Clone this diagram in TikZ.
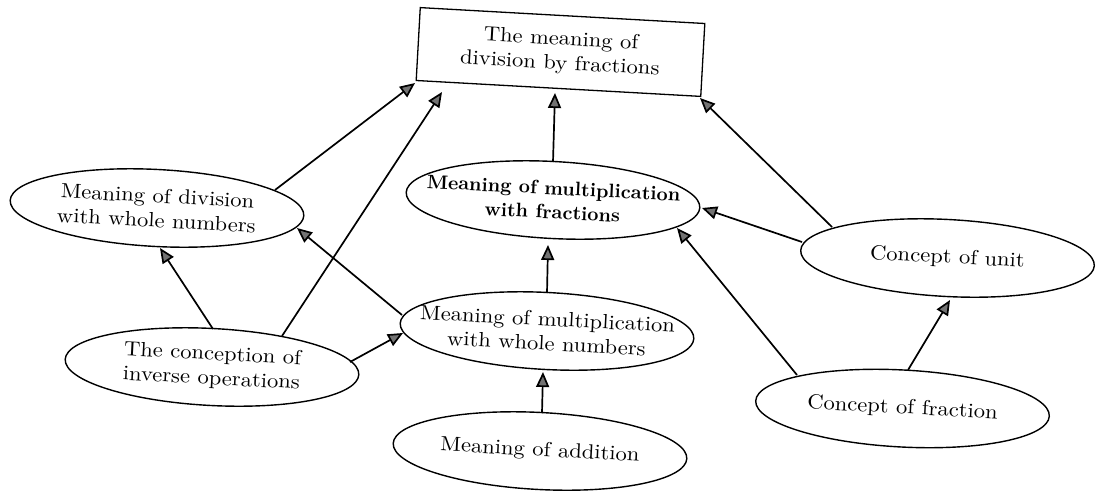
\documentclass[tikz,border=0pt]{standalone}
\usepackage{fontspec}
\newfontfamily\lblfont{lmroman10-regular.otf}[FakeStretch=1.1]
\newfontfamily\lblbold{lmroman10-bold.otf}
\usetikzlibrary{shapes.geometric,arrows.meta,calc}
\begin{document}
\begin{tikzpicture}[x=1pt,y=-1pt,
  ell/.style={ellipse,draw,line width=1.4pt,minimum width=294pt,minimum height=77pt,
    inner xsep=-40pt,inner ysep=0pt,align=center,rotate=-3,font=\lblfont\fontsize{20.5}{24.5}\selectfont},
  box/.style={rectangle,draw,line width=1.3pt,minimum width=285pt,minimum height=73pt,
    inner sep=0pt,align=center,rotate=-3.2,font=\lblfont\fontsize{20.5}{24.5}\selectfont},
  link/.style={line width=1.7pt,-{Triangle[length=15pt,width=13pt,fill=black!55]}}]
\useasboundingbox (0,0) rectangle (1100,496);

\node[box] (top) at (560.5,52) {The meaning of\\division by fractions};
\node[ell] (divw) at (157,208) {Meaning of division\\with whole numbers};
\node[ell,font=\lblbold\fontsize{19.5}{24}\selectfont] (multf) at (553,200) {Meaning of multiplication\\with fractions};
\node[ell] (unit) at (947.5,258) {Concept of unit};
\node[ell] (fraction) at (902.5,408.5) {Concept of fraction};
\node[ell] (inverse) at (212,367) {The conception of\\inverse operations};
\node[ell] (multw) at (547,331) {Meaning of multiplication\\with whole numbers};
\node[ell] (addition) at (540,451) {Meaning of addition};

\draw[link] ($(divw)+(118,-18)$) -- ($(top)+(-145.5,31)$);
\draw[link] ($(inverse)+(70,-31)$) -- ($(top)+(-118.5,40)$);
\draw[link] ($(multf)+(0,-38)$) -- ($(top)+(-5.5,41)$);
\draw[link] ($(unit)+(-115.5,-31)$) -- ($(top)+(139.5,46)$);
\draw[link] ($(unit)+(-145.5,-16)$) -- ($(multf)+(149,8)$);
\draw[link] ($(fraction)+(-105.5,-33.5)$) -- ($(multf)+(124,28)$);
\draw[link] ($(fraction)+(5.5,-38.5)$) -- ($(unit)+(2.5,42)$);
\draw[link] ($(multw)+(0,-38)$) -- ($(multf)+(-5,45)$);
\draw[link] ($(addition)+(2,-38)$) -- ($(multw)+(-4,41)$);
\draw[link] ($(inverse)+(1,-38)$) -- ($(divw)+(3,40)$);
\draw[link] ($(multw)+(-145,-16)$) -- ($(divw)+(140,20)$);
\draw[link] ($(inverse)+(138,-5)$) -- ($(multw)+(-144,2)$);
\end{tikzpicture}
\end{document}
